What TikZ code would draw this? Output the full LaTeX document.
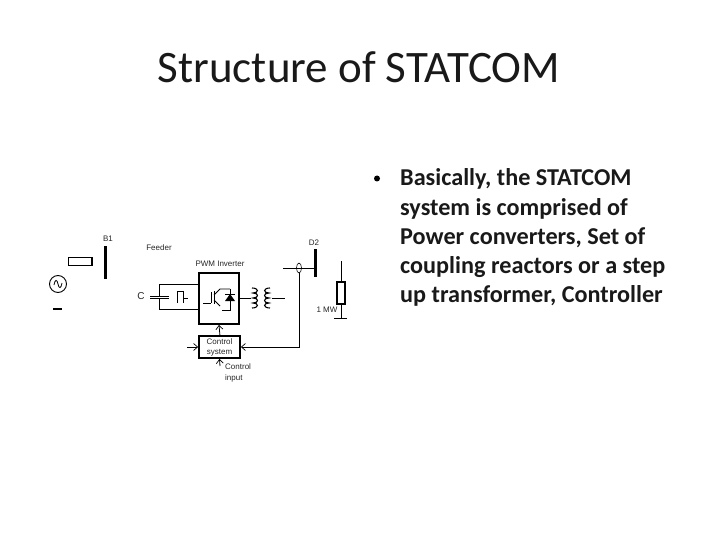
\documentclass[tikz,border=0pt]{standalone}
\usepackage{fontspec}
\setmainfont{Carlito}
\newfontfamily\diag{Liberation Sans}
\usetikzlibrary{arrows.meta,shapes.geometric}
\tikzset{
  x=1pt,y=-1pt,
  wire/.style={draw=black,line width=0.8pt},
  heavy/.style={draw=black,line width=1.8pt},
  bar/.style={draw=black,line width=3pt},
  lab/.style={font=\diag\fontsize{8}{10}\selectfont,text=black!85,inner sep=0pt,align=left},
  body/.style={font=\bfseries\fontsize{24.2}{29}\selectfont,text=black!90,inner sep=0pt,anchor=base west},
  openarrow/.style={-{Straight Barb[length=4pt,width=7pt,line width=0.7pt]},wire},
}
\begin{document}
\begin{tikzpicture}
\useasboundingbox (0,0) rectangle (720,540);
\node[font=\fontsize{45}{52}\selectfont,text=black!90,inner sep=0pt] (title) at (359,67) {Structure of STATCOM};
\fill[black] (377,178.5) circle (3pt);
\node[body] (t1) at (400,186) {Basically, the STATCOM};
\node[body] (t2) at (400,215) {system is comprised of};
\node[body] (t3) at (400,244) {Power converters, Set of};
\node[body] (t4) at (400,273) {coupling reactors or a step};
\node[body] (t5) at (400,302) {up transformer, Controller};
% source side
\node[lab] (b1l) at (108,239) {B1};
\node[lab] (feeder) at (159,248) {Feeder};
\node[lab,font=\diag\fontsize{10}{12}\selectfont] (cl) at (141,296) {C};
\node[lab] (pwm) at (220,264) {PWM Inverter};
\node[lab] (d2l) at (314,243) {D2};
\node[lab] (mw) at (327,310) {1 MW};
\draw[bar] (105,246) -- (105,279);
\node[draw=black,line width=1pt,minimum width=24pt,minimum height=8pt,inner sep=0pt] (feedbox) at (80,261) {};
\draw[heavy] (92,257) -- (92,265);
\node[circle,draw=black,line width=0.9pt,minimum size=17pt,inner sep=0pt] (src) at (58,284) {};
\draw[wire] (54,285) .. controls (55,279) and (57,279) .. (58,284) .. controls (59,289) and (61,289) .. (62,283);
\draw[heavy] (53,309) -- (62,309);
% capacitor branch
\node[heavy,minimum width=40pt,minimum height=51pt,inner sep=0pt] (inv) at (219,298.5) {};
\draw[wire] (159,296) -- (159,284) -- (199,284);
\draw[wire] (159,298) -- (159,309) -- (199,309);
\draw[wire,line width=1pt] (150,296) -- (169,296) (150,298.5) -- (169,298.5);
\draw[wire] (177,303) -- (177,291) -- (183,291) -- (183,303) (183,298) -- (188,298);
% inverter symbol
\draw[wire] (203,303) -- (211,303) (211,292) -- (211,303) (214,291) -- (214,304);
\draw[wire] (214,295) -- (220,289) -- (230,289) (214,300) -- (220,306);
\draw[wire] (230,289) -- (230,310) -- (222,310);
\fill[black] (230,294) -- (225,301) -- (235,301) -- cycle;
\draw[wire] (225,294) -- (235,294);
% transformer
\draw[wire] (239,298) -- (251,298);
\draw[wire,line width=1.1pt] (252,288) .. controls (259,288) and (259,293) .. (253,293) .. controls (259,293) and (259,298) .. (253,298) .. controls (259,298) and (259,303) .. (253,303) .. controls (259,303) and (259,308) .. (252,308);
\draw[wire,line width=1.1pt] (270,288) .. controls (263,288) and (263,293) .. (269,293) .. controls (263,293) and (263,298) .. (269,298) .. controls (263,298) and (263,303) .. (269,303) .. controls (263,303) and (263,308) .. (270,308);
\draw[wire] (272,298) -- (285,298);
% D2
\draw[bar] (315,249) -- (315,277);
\coordinate (d2w) at (283,268);
\coordinate (d2e) at (315,268);
\draw[wire] (d2w) -- (d2e);
\node[ellipse,draw=black,line width=0.6pt,minimum width=5pt,minimum height=10pt,inner sep=0pt] (ct) at (299,268) {};
% load
\node[draw=black,line width=1.2pt,minimum width=8pt,minimum height=22pt,inner sep=0pt] (res) at (341,293) {};
\coordinate (rt) at (341,261);
\coordinate (rb) at (341,318);
\draw[wire] (rt) -- (res.north) (res.south) -- (rb);
\draw[wire] (334,318) -- (347,318);
% control
\node[heavy,minimum width=41pt,minimum height=22pt,inner sep=0pt,lab,align=center] (ctl) at (219.5,347) {Control\\system};
\draw[openarrow] (220,336) -- (inv.south);
\coordinate (cin) at (187,347);
\coordinate (cbot) at (220,366);
\draw[openarrow] (cin) -- (ctl.west);
\draw[openarrow] (cbot) -- (ctl.south);
\draw[openarrow] (ct.south) |- (ctl.east);
\node[lab,anchor=west] (cinl) at (225,367) {Control};
\node[lab,anchor=west] (cin2) at (225,378) {input};
\end{tikzpicture}
\end{document}
